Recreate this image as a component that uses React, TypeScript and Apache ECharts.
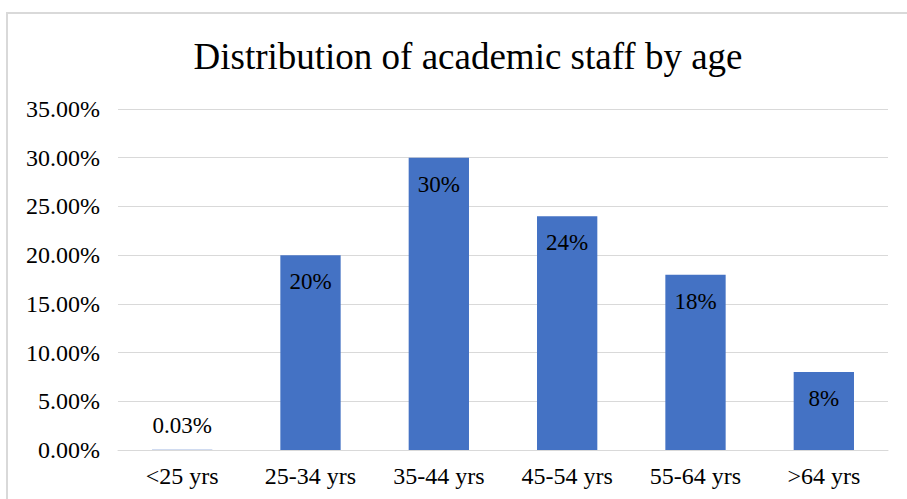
import React, { useEffect, useRef } from "react";
import * as echarts from "echarts";

const categories = ["<25 yrs", "25-34 yrs", "35-44 yrs", "45-54 yrs", "55-64 yrs", ">64 yrs"];
const values = [0.03, 20, 30, 24, 18, 8];
const labels = ["0.03%", "20%", "30%", "24%", "18%", "8%"];
const yTicks = [0, 5, 10, 15, 20, 25, 30, 35];

const FONT = "'Liberation Serif', 'Times New Roman', serif";

export default function App() {
  const ref = useRef<HTMLDivElement>(null);
  useEffect(() => {
    if (!ref.current) return;
    const chart = echarts.init(ref.current, undefined, { renderer: "svg" });
    chart.setOption({
      animation: false,
      backgroundColor: "#ffffff",
      title: {
        text: "Distribution of academic staff by age",
        left: 463,
        textAlign: "center",
        top: 33,
        textStyle: { fontFamily: FONT, fontSize: 37, fontWeight: "normal", color: "#000000" },
      },
      graphic: [
        {
          type: "rect",
          shape: { x: 7, y: 13, width: 905, height: 495 },
          style: { fill: "none", stroke: "#d9d9d9", lineWidth: 2 },
          silent: true,
        },
      ],
      grid: { left: 118, right: 19, top: 109, bottom: 49, containLabel: false },
      xAxis: {
        type: "category",
        data: categories,
        axisLine: { show: true, lineStyle: { color: "#d9d9d9", width: 1 } },
        axisTick: { show: false },
        axisLabel: { fontFamily: FONT, fontSize: 24, color: "#000000", margin: 14 },
      },
      yAxis: {
        type: "value",
        min: 0,
        max: 35,
        interval: 5,
        axisLine: { show: false },
        axisTick: { show: false },
        splitLine: { lineStyle: { color: "#d9d9d9", width: 1 } },
        axisLabel: {
          fontFamily: FONT,
          fontSize: 24,
          color: "#000000",
          margin: 18,
          formatter: (v: number) => (yTicks.includes(v) ? v.toFixed(2) + "%" : ""),
        },
      },
      series: [
        {
          type: "bar",
          data: values.map((v, i) => ({
            value: v,
            label:
              i === 0
                ? { show: true, position: "top", distance: 13, formatter: labels[i] }
                : { show: true, position: "insideTop", distance: 15, formatter: labels[i] },
          })),
          barWidth: "47%",
          itemStyle: { color: "#4472c4" },
          label: { fontFamily: FONT, fontSize: 23, color: "#000000" },
        },
      ],
    });
    return () => chart.dispose();
  }, []);
  return (
    <div
      ref={ref}
      style={{ position: "fixed", left: 0, top: 0, width: 907, height: 499 }}
    />
  );
}
